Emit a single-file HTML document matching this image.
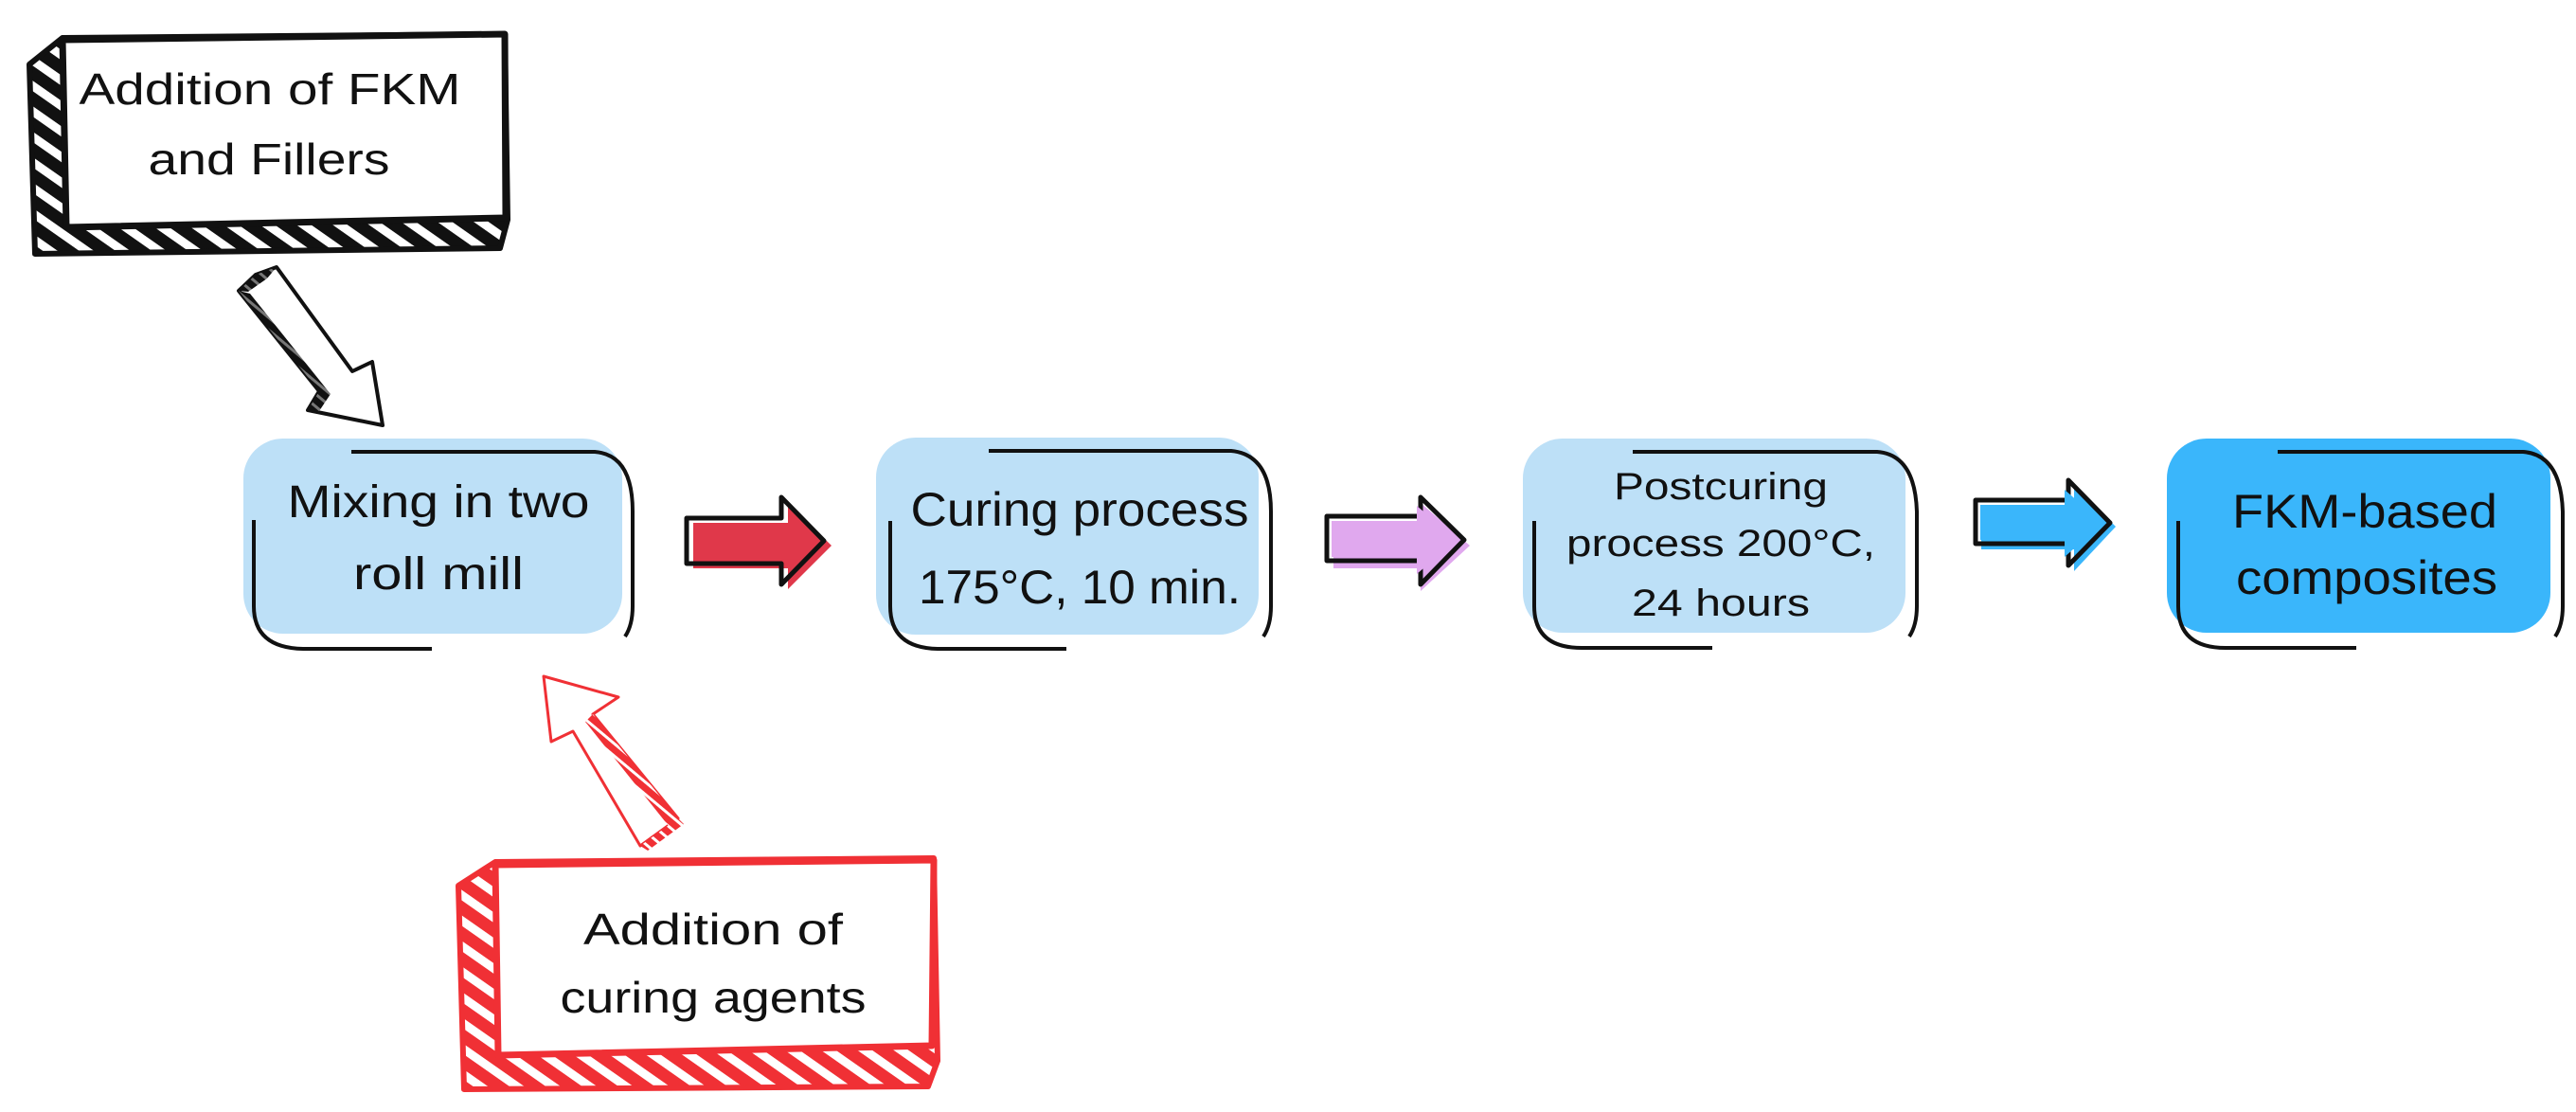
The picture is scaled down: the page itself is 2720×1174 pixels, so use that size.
<!DOCTYPE html>
<html><head><meta charset="utf-8"><style>
html,body{margin:0;padding:0;background:#fff;}
svg{display:block;}
text{font-family:"Liberation Sans",sans-serif;fill:#111;}
</style></head><body>
<svg width="2720" height="1174" viewBox="0 0 2720 1174" xmlns="http://www.w3.org/2000/svg">
<defs>
<pattern id="hb" width="22" height="22" patternUnits="userSpaceOnUse" patternTransform="rotate(35)">
<rect width="22" height="22" fill="#111"/><rect x="0" y="6" width="22" height="9" fill="#fff"/>
</pattern>
<pattern id="hr" width="22" height="22" patternUnits="userSpaceOnUse" patternTransform="rotate(35)">
<rect width="22" height="22" fill="#f03035"/><rect x="0" y="6" width="22" height="9" fill="#fff"/>
</pattern>
<pattern id="hb2" width="10" height="10" patternUnits="userSpaceOnUse" patternTransform="rotate(40)">
<rect width="10" height="10" fill="#111"/><rect y="3" width="10" height="3" fill="#777"/>
</pattern>
<pattern id="hr2" width="10" height="10" patternUnits="userSpaceOnUse" patternTransform="rotate(40)">
<rect width="10" height="10" fill="#f03035"/><rect y="3" width="10" height="3" fill="#fff"/>
</pattern>
</defs>

<!-- Black box -->
<polygon points="66,40 533,36 536,232 528,262 37,268 31,68" fill="url(#hb)" stroke="#111" stroke-width="6" stroke-linejoin="round"/>
<polygon points="66,42 533,36 534,230 70,240" fill="#fff" stroke="#111" stroke-width="7" stroke-linejoin="round"/>
<text x="285" y="110" font-size="46" text-anchor="middle" textLength="403" lengthAdjust="spacingAndGlyphs">Addition of FKM</text>
<text x="284" y="184" font-size="46" text-anchor="middle" textLength="255" lengthAdjust="spacingAndGlyphs">and Fillers</text>

<!-- Black arrow -->
<polygon points="292,282 372,392 393,382 404,449 325,433 337,413 252,307 270,290" fill="#fff" stroke="#111" stroke-width="4" stroke-linejoin="round"/>
<polygon points="252,307 337,413 325,433 335,437 349,416 264,310" fill="url(#hb2)"/>
<polygon points="252,307 270,290 292,282 282,294 262,308" fill="url(#hb2)"/>

<!-- Red box -->
<polygon points="523,910 986,906 990,1120 980,1147 490,1150 484,935" fill="url(#hr)" stroke="#f03035" stroke-width="6" stroke-linejoin="round"/>
<polygon points="523,913 986,908 984,1104 526,1114" fill="#fff" stroke="#f03035" stroke-width="7" stroke-linejoin="round"/>
<text x="753" y="997" font-size="46" text-anchor="middle" textLength="274" lengthAdjust="spacingAndGlyphs">Addition of</text>
<text x="753" y="1069" font-size="46" text-anchor="middle" textLength="323" lengthAdjust="spacingAndGlyphs">curing agents</text>

<!-- Red arrow -->
<polygon points="574,714 653,736 626,754 716,864 676,893 605,772 582,783" fill="#fff" stroke="#f03035" stroke-width="3" stroke-linejoin="round"/>
<polygon points="626,754 716,864 706,872 618,762" fill="url(#hr2)"/>
<polygon points="716,864 676,893 684,898 722,870" fill="url(#hr2)"/>

<!-- Boxes -->
<rect x="257" y="463" width="400" height="206" rx="42" fill="#bde0f7"/>
<rect x="925" y="462" width="404" height="208" rx="42" fill="#bde0f7"/>
<rect x="1608" y="463" width="404" height="205" rx="42" fill="#bde0f7"/>
<rect x="2288" y="463" width="405" height="205" rx="42" fill="#3ab6fb"/>

<g fill="none" stroke="#111" stroke-width="4">
<path d="M371,477 L628,477 Q668,480 668,540 L668,640 Q668,660 660,672"/>
<path d="M268,549 L268,640 Q268,684 320,685 L456,685"/>
<path d="M1044,476 L1300,476 Q1342,480 1342,540 L1342,640 Q1342,660 1334,672"/>
<path d="M940,550 L940,640 Q940,684 990,685 L1126,685"/>
<path d="M1724,477 L1982,477 Q2022,480 2024,540 L2024,640 Q2024,660 2016,672"/>
<path d="M1620,550 L1620,640 Q1620,684 1670,684 L1808,684"/>
<path d="M2405,477 L2664,477 Q2704,480 2706,540 L2706,640 Q2706,660 2698,672"/>
<path d="M2300,550 L2300,640 Q2300,684 2350,684 L2488,684"/>
</g>

<text x="463" y="546" font-size="48" text-anchor="middle" textLength="319" lengthAdjust="spacingAndGlyphs">Mixing in two</text>
<text x="463" y="622" font-size="48" text-anchor="middle" textLength="180" lengthAdjust="spacingAndGlyphs">roll mill</text>
<text x="1140" y="555" font-size="50" text-anchor="middle" textLength="357" lengthAdjust="spacingAndGlyphs">Curing process</text>
<text x="1140" y="637" font-size="50" text-anchor="middle" textLength="340" lengthAdjust="spacingAndGlyphs">175°C, 10 min.</text>
<text x="1817" y="527" font-size="40" text-anchor="middle" textLength="226" lengthAdjust="spacingAndGlyphs">Postcuring</text>
<text x="1817" y="587" font-size="40" text-anchor="middle" textLength="326" lengthAdjust="spacingAndGlyphs">process 200°C,</text>
<text x="1817" y="650" font-size="40" text-anchor="middle" textLength="188" lengthAdjust="spacingAndGlyphs">24 hours</text>
<text x="2497" y="557" font-size="50" text-anchor="middle" textLength="280" lengthAdjust="spacingAndGlyphs">FKM-based</text>
<text x="2499" y="627" font-size="50" text-anchor="middle" textLength="276" lengthAdjust="spacingAndGlyphs">composites</text>

<!-- Horizontal arrows -->
<polygon points="732,552 832,552 832,531 878,576 832,622 832,600 732,600" fill="#e0384a"/>
<polygon points="725,547 825,547 825,525 870,571 825,617 825,595 725,595" fill="none" stroke="#111" stroke-width="5" stroke-linejoin="round"/>

<polygon points="1408,552 1500,552 1500,531 1552,576 1500,624 1500,600 1408,600" fill="#e0a8ee"/>
<polygon points="1401,545 1500,545 1500,525 1546,570 1500,617 1500,592 1401,592" fill="none" stroke="#111" stroke-width="5" stroke-linejoin="round"/>
<polygon points="1406,550 1496,550 1496,534 1538,570 1496,606 1496,588 1406,588" fill="#e0a8ee"/>

<polygon points="2092,534 2190,534 2190,512 2234,556 2190,603 2190,580 2092,580" fill="#3ab6fb"/>
<polygon points="2086,528 2184,528 2184,507 2228,552 2184,597 2184,574 2086,574" fill="none" stroke="#111" stroke-width="5" stroke-linejoin="round"/>
<polygon points="2091,533 2180,533 2180,517 2220,552 2180,588 2180,570 2091,570" fill="#3ab6fb"/>
</svg>
</body></html>
